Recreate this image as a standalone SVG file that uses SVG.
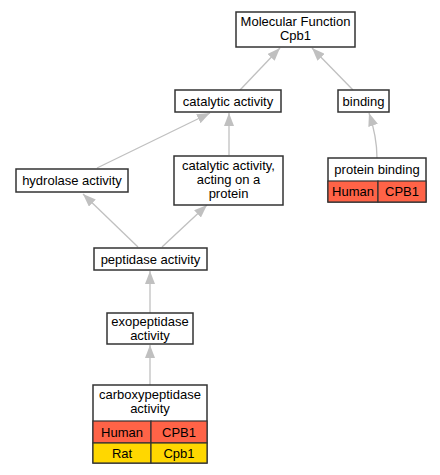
<svg xmlns="http://www.w3.org/2000/svg" width="440" height="475" viewBox="0 0 440 475">
<style>
text{font-family:"Liberation Sans",Arial,sans-serif;font-size:13px;fill:#000;text-anchor:middle}
.n{fill:#fff;stroke:#333;stroke-width:1.5}
.h{fill:#ff6347;stroke:#333;stroke-width:1.2}
.r{fill:#ffd700;stroke:#333;stroke-width:1.2}
.e{fill:none;stroke:#c0c0c0;stroke-width:1.3}
</style>
<defs>
<marker id="a" viewBox="0 0 13 10" refX="13" refY="5" markerWidth="13" markerHeight="10" markerUnits="userSpaceOnUse" orient="auto">
<path d="M0,0 L13,5 L0,10 Z" fill="#c0c0c0"/>
</marker>
</defs>
<rect width="440" height="475" fill="#fff"/>
<g id="edges">
<path class="e" d="M240,90 L280,48" marker-end="url(#a)"/>
<path class="e" d="M353,90 L312,48" marker-end="url(#a)"/>
<path class="e" d="M377,158 C377,140 373,125 369,113" marker-end="url(#a)"/>
<path class="e" d="M229,155 L229,113" marker-end="url(#a)"/>
<path class="e" d="M97,168 L210,113" marker-end="url(#a)"/>
<path class="e" d="M138,247 L83,194" marker-end="url(#a)"/>
<path class="e" d="M162,247 L207,205" marker-end="url(#a)"/>
<path class="e" d="M150,313 L150,271" marker-end="url(#a)"/>
<path class="e" d="M150,385 L150,345" marker-end="url(#a)"/>
</g>
<g id="mf">
<rect class="n" x="236" y="12" width="119" height="35"/>
<text x="295.5" y="26">Molecular Function</text>
<text x="295.5" y="40">Cpb1</text>
</g>
<g id="catalytic">
<rect class="n" x="175" y="90" width="106" height="22"/>
<text x="228" y="105.5">catalytic activity</text>
</g>
<g id="binding">
<rect class="n" x="338" y="90" width="51" height="22"/>
<text x="363.5" y="105.5">binding</text>
</g>
<g id="acting">
<rect class="n" x="174" y="156" width="109" height="49"/>
<text x="228.5" y="170">catalytic activity,</text>
<text x="228.5" y="184">acting on a</text>
<text x="228.5" y="198">protein</text>
</g>
<g id="protein-binding">
<rect class="n" x="328" y="158" width="98" height="44"/>
<rect class="h" x="328" y="181" width="50" height="21"/>
<rect class="h" x="378" y="181" width="48" height="21"/>
<text x="377" y="174">protein binding</text>
<text x="353" y="196">Human</text>
<text x="402" y="196">CPB1</text>
</g>
<g id="hydrolase">
<rect class="n" x="16" y="169" width="112" height="23"/>
<text x="72" y="185">hydrolase activity</text>
</g>
<g id="peptidase">
<rect class="n" x="94" y="248" width="113" height="22"/>
<text x="150.5" y="263.5">peptidase activity</text>
</g>
<g id="exopeptidase">
<rect class="n" x="107" y="313" width="86" height="31"/>
<text x="150" y="326">exopeptidase</text>
<text x="150" y="340">activity</text>
</g>
<g id="carboxypeptidase">
<rect class="n" x="93" y="385" width="114" height="78"/>
<rect class="h" x="93" y="421" width="58" height="22"/>
<rect class="h" x="151" y="421" width="56" height="22"/>
<rect class="r" x="93" y="443" width="58" height="20"/>
<rect class="r" x="151" y="443" width="56" height="20"/>
<text x="150" y="399">carboxypeptidase</text>
<text x="150" y="413">activity</text>
<text x="122" y="436.5">Human</text>
<text x="179" y="436.5">CPB1</text>
<text x="122" y="457.5">Rat</text>
<text x="179" y="457.5">Cpb1</text>
</g>
</svg>
